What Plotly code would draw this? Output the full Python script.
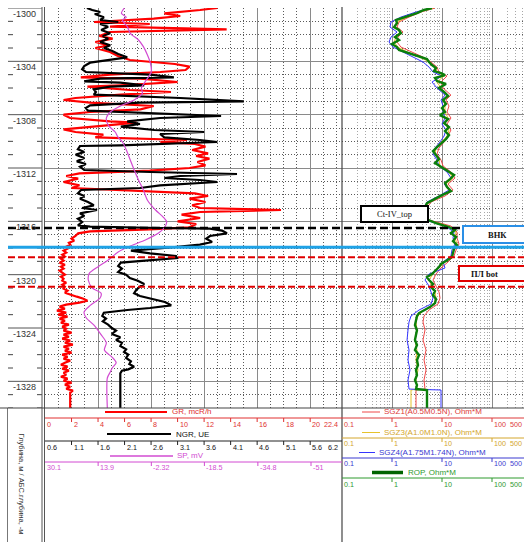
import math
import plotly.graph_objects as go

# ---------------- data ----------------
GR_DEPTH = [1300.0, 1300.15, 1300.4, 1300.6, 1300.8, 1301.05, 1301.2, 1301.4, 1301.6, 1301.8,
            1302.1, 1302.3, 1302.55, 1302.8, 1303.0, 1303.3, 1303.6, 1303.9, 1304.2, 1304.4,
            1304.65, 1304.8, 1305.0, 1305.2, 1305.3, 1305.55, 1305.8, 1305.9, 1306.15, 1306.3,
            1306.5, 1306.75, 1306.9, 1307.1, 1307.35, 1307.6, 1307.8, 1308.0, 1308.25, 1308.5,
            1308.6, 1308.85, 1309.1, 1309.3, 1309.5, 1309.7, 1309.9, 1310.05, 1310.2, 1310.4,
            1310.65, 1310.9, 1311.1, 1311.3, 1311.55, 1311.8, 1312.0, 1312.2, 1312.4, 1312.6,
            1312.8, 1313.05, 1313.3, 1313.5, 1313.7, 1313.9, 1314.1, 1314.3, 1314.55, 1314.8,
            1315.0, 1315.15, 1315.3, 1315.5, 1315.75, 1316.0, 1316.2, 1316.45, 1316.6, 1316.75,
            1316.9,
            1317.1, 1317.3, 1317.45, 1317.6, 1317.75, 1317.9, 1318.05, 1318.2, 1318.35, 1318.5,
            1318.65, 1318.8, 1318.95, 1319.1, 1319.25, 1319.4, 1319.55, 1319.7, 1319.85, 1320.0,
            1320.15, 1320.3, 1320.45, 1320.6, 1320.75, 1320.9, 1321.05, 1321.2, 1321.35, 1321.5,
            1321.65, 1321.8, 1321.95, 1322.1, 1322.25, 1322.4, 1322.55, 1322.7, 1322.85, 1323.0,
            1323.15, 1323.3, 1323.45, 1323.6, 1323.75, 1323.9, 1324.05, 1324.2, 1324.35, 1324.5,
            1324.65, 1324.8, 1324.95, 1325.1, 1325.25, 1325.4, 1325.55, 1325.7, 1325.85, 1326.0,
            1326.15, 1326.3, 1326.45, 1326.6, 1326.75, 1326.9, 1327.05, 1327.2, 1327.35, 1327.5,
            1327.65, 1327.8, 1327.95, 1328.1, 1328.25, 1328.4, 1328.55, 1328.7, 1328.85, 1330.0]
GR_VALUE = [13.0, 11.7, 9.0, 10.2, 8.2, 3.7, 7.9, 4.9, 13.7, 4.9,
            4.1, 5.1, 3.8, 4.8, 3.8, 4.9, 5.5, 6.4, 9.8, 10.9,
            10.6, 8.7, 4.9, 2.7, 7.2, 10.0, 5.7, 3.2, 6.4, 9.5,
            5.7, 2.3, 1.4, 3.4, 8.2, 7.2, 3.4, 1.4, 1.9, 4.9,
            6.9, 4.1, 1.4, 2.3, 4.4, 3.8, 10.7, 8.7, 11.3, 12.1,
            11.1, 12.3, 11.4, 12.4, 11.5, 12.1, 10.9, 7.9, 2.6, 1.6,
            2.5, 1.4, 2.6, 2.0, 6.4, 11.3, 12.3, 10.9, 12.1, 11.1,
            11.7, 17.8, 11.7, 10.3, 11.7, 10.0, 11.4, 10.9, 7.9, 3.4,
            2.5,
            2.3, 2.0, 2.2, 1.8, 1.9, 1.6, 1.7, 1.4, 1.6, 1.3,
            1.5, 1.2, 1.4, 1.1, 1.5, 1.2, 1.4, 1.1, 1.3, 1.5,
            1.2, 1.4, 1.3, 1.6, 1.3, 1.5, 1.4, 1.7, 1.5, 1.9,
            2.4, 2.9, 3.2, 2.6, 1.6, 1.1, 1.5, 0.9, 1.6, 1.0,
            1.7, 1.1, 1.5, 1.2, 1.8, 1.3, 1.6, 1.4, 2.0, 1.4,
            1.8, 1.3, 1.9, 1.5, 2.1, 1.4, 1.8, 1.5, 2.0, 1.3,
            1.7, 1.4, 1.9, 1.5, 1.2, 1.7, 1.3, 1.8, 1.4, 1.6,
            1.2, 1.7, 1.4, 2.0, 1.5, 1.9, 1.6, 2.1, 1.9, 1.9]

NGR_DEPTH = [1300.0, 1300.15, 1300.3, 1300.45, 1300.7, 1300.9, 1301.05, 1301.2, 1301.4, 1301.65,
             1301.9, 1302.1, 1302.3, 1302.55, 1302.8, 1303.0, 1303.2, 1303.45, 1303.7, 1303.9,
             1304.1, 1304.35, 1304.6, 1304.8, 1305.0, 1305.2, 1305.3, 1305.5, 1305.6, 1305.8,
             1305.9, 1306.1, 1306.3, 1306.5, 1306.75, 1307.0, 1307.1, 1307.3, 1307.5, 1307.7,
             1307.95, 1308.1, 1308.25, 1308.5, 1308.7, 1308.9,
             1309.15, 1309.3, 1309.45, 1309.7, 1309.9, 1310.05, 1310.3, 1310.35, 1310.6, 1310.8,
             1311.0, 1311.25, 1311.5, 1311.7, 1311.9, 1312.15, 1312.3, 1312.45, 1312.6, 1312.75,
             1312.9, 1313.05, 1313.3, 1313.5, 1313.65, 1313.9, 1314.1, 1314.3, 1314.55, 1314.8,
             1315.0, 1315.15, 1315.4, 1315.6, 1315.8, 1316.05, 1316.3, 1316.4, 1316.5, 1316.55,
             1316.7, 1316.9, 1317.1, 1317.3, 1317.55, 1317.75, 1318.0, 1318.2, 1318.4, 1318.6,
             1318.75, 1318.95, 1319.1, 1319.35, 1319.55, 1319.8, 1320.0, 1320.25, 1320.45, 1320.7,
             1320.9, 1321.15, 1321.4, 1321.6, 1321.8, 1322.05, 1322.3, 1322.5, 1322.65, 1322.85,
             1323.1, 1323.3, 1323.5, 1323.75, 1324.0, 1324.2, 1324.45, 1324.7, 1324.9, 1325.1,
             1325.35, 1325.6, 1325.8, 1326.0, 1326.25, 1326.5, 1326.7, 1326.9, 1327.1, 1327.2,
             1327.4, 1330.0]
NGR_VALUE = [1.39, 1.49, 1.64, 1.54, 1.71, 1.64, 1.98, 1.64, 1.79, 1.66,
             1.83, 1.69, 1.79, 1.64, 1.83, 1.71, 1.86, 1.98, 2.15, 1.83,
             1.45, 1.34, 1.30, 1.37, 2.58, 3.03, 1.64, 1.34, 2.02, 2.47,
             1.83, 1.52, 1.56, 1.52, 3.15, 4.35, 2.39, 1.45, 1.37, 1.41,
             3.15, 3.92, 2.77, 2.15, 2.39, 2.03,
             2.66, 3.60, 2.77, 2.85, 3.52, 3.85, 2.02, 1.26, 1.22, 1.34,
             1.18, 1.34, 1.20, 1.37, 1.26, 1.34, 2.58, 4.22, 3.15, 2.85,
             3.52, 3.85, 2.77, 2.39, 1.28, 1.22, 1.34, 1.26, 1.41, 1.52,
             1.30, 1.58, 1.26, 1.34, 1.22, 1.30, 1.22, 1.45, 2.77, 3.71,
             3.94, 4.03, 3.71, 3.64, 3.75, 3.52, 2.86, 2.22, 2.58, 3.07,
             3.09, 2.39, 2.03, 1.98, 2.05, 1.98, 2.13, 2.20, 2.35, 2.47,
             2.39, 2.32, 2.28, 2.39, 2.58, 2.86, 2.98, 2.58, 2.15, 1.71,
             1.68, 1.75, 1.69, 1.79, 1.86, 1.94, 1.86, 2.02, 1.94, 2.05,
             2.02, 2.13, 2.09, 2.17, 2.13, 2.22, 2.19, 2.28, 2.17, 2.05,
             2.02, 2.02]

SP_DEPTH = [1300.0, 1300.4, 1300.7, 1300.9, 1301.4, 1301.9, 1302.4, 1302.9, 1303.5, 1304.1,
            1304.8, 1305.4, 1306.0, 1306.4, 1306.9, 1307.35, 1307.8, 1308.25, 1308.8, 1309.3,
            1309.7, 1310.05, 1310.65, 1311.4, 1312.15, 1312.9, 1313.65, 1314.4, 1315.15, 1315.7,
            1316.05, 1316.5, 1316.9, 1317.4, 1317.85, 1318.3, 1318.9, 1319.4, 1319.9, 1320.4,
            1321.0, 1321.4, 1321.75, 1322.3, 1322.8, 1323.25, 1323.8, 1324.5, 1325.1, 1325.65,
            1326.2, 1326.6, 1327.0, 1327.3, 1327.75, 1330.0]
SP_VALUE = [5.9, 6.8, 5.3, 6.5, 5.0, 4.1, 1.6, 0.1, -1.1, -2.0,
            -2.3, -0.8, 0.7, 0.4, 2.9, 7.1, 10.2, 11.4, 10.8, 8.7,
            7.8, 6.5, 5.3, 4.1, 2.9, 1.6, 0.1, -1.1, -3.6, -6.0,
            -7.0, -6.2, -4.4, -0.5, 4.1, 7.8, 10.8, 13.9, 16.6, 16.9,
            15.7, 13.0, 13.3, 16.3, 18.2, 17.5, 15.1, 13.0, 11.4, 12.0,
            9.6, 8.4, 9.6, 10.2, 11.1, 11.1]

ROP_DEPTH = [1300.0, 1300.15, 1300.38, 1300.68, 1300.9, 1301.13, 1301.43, 1301.65, 1301.88, 1302.18,
             1302.4, 1302.7, 1302.93, 1303.15, 1303.38, 1303.6, 1303.83, 1304.05, 1304.28, 1304.5,
             1304.73, 1304.88, 1305.03, 1305.25, 1305.48, 1305.7, 1306.0, 1306.3, 1306.6, 1306.9,
             1307.2, 1307.5, 1307.8, 1308.03, 1308.33, 1308.63, 1308.93, 1309.23, 1309.53, 1309.83,
             1310.13, 1310.43, 1310.73, 1311.03, 1311.33, 1311.63, 1311.93, 1312.23, 1312.53, 1312.83,
             1313.13, 1313.43, 1313.73, 1314.03, 1314.33, 1314.63, 1314.93, 1315.23, 1315.53, 1315.83,
             1316.13, 1316.43, 1316.65, 1316.88, 1317.18, 1317.48, 1317.78, 1318.08, 1318.38, 1318.68,
             1318.98, 1319.2, 1319.43, 1319.65, 1319.95, 1320.18, 1320.4, 1320.7, 1320.93, 1321.23,
             1321.53, 1321.83, 1322.13, 1322.43, 1322.65, 1322.88, 1323.1, 1323.4, 1323.78, 1324.15,
             1324.53, 1324.9, 1325.28, 1325.65, 1326.03, 1326.4, 1326.78, 1327.15, 1327.53, 1327.9,
             1328.28, 1328.58, 1328.65, 1330.0]
ROP_VALUE = [6.31, 4.37, 3.16, 1.91, 1.20, 1.26, 1.10, 1.38, 1.51, 1.15,
             1.38, 1.00, 1.26, 1.38, 2.19, 3.47, 5.01, 5.50, 6.31, 7.59,
             6.92, 9.55, 11.5, 7.24, 7.94, 12.0, 8.71, 11.0, 13.2, 10.5,
             12.0, 10.0, 11.5, 9.12, 13.2, 11.0, 13.8, 11.5, 13.8, 12.0,
             10.0, 7.94, 6.61, 7.59, 8.71, 7.24, 9.55, 12.6, 17.4, 14.5,
             11.5, 12.6, 15.1, 10.0, 7.24, 5.01, 4.57, 5.01, 4.37, 4.79,
             7.59, 13.8, 18.2, 15.1, 19.1, 16.6, 20.0, 17.4, 16.6, 15.8,
             12.0, 9.55, 8.71, 7.59, 6.31, 5.01, 5.50, 6.61, 6.03, 7.24,
             6.61, 7.59, 7.24, 5.75, 4.37, 3.47, 3.16, 3.02, 2.88, 3.16,
             3.02, 2.88, 3.16, 2.88, 3.47, 3.16, 3.31, 3.02, 3.16, 2.88,
             3.16, 3.02, 5.01, 5.01]

RES_DEPTH = [1300.0, 1300.3, 1300.68, 1301.05, 1301.43, 1301.8, 1302.18, 1302.55, 1302.93, 1303.3,
             1303.68, 1304.05, 1304.43, 1304.8, 1305.1, 1305.55, 1306.0, 1306.53, 1306.9, 1307.35,
             1307.8, 1308.25, 1308.7, 1309.15, 1309.6, 1310.05, 1310.5, 1310.95, 1311.4, 1311.85,
             1312.3, 1312.75, 1313.2, 1313.65, 1314.1, 1314.55, 1315.0, 1315.45, 1315.9, 1316.35,
             1316.8, 1317.25, 1317.7, 1318.15, 1318.6, 1319.05, 1319.5, 1319.95, 1320.4, 1320.85,
             1321.3, 1321.75, 1322.2, 1322.65, 1323.1, 1323.55, 1324.15, 1324.9, 1325.65, 1326.4,
             1327.15, 1327.9, 1328.58, 1328.65, 1330.0]
SGZ1_VALUE = [7.24, 3.80, 2.19, 1.38, 1.26, 1.66, 1.32, 1.26, 1.51, 2.40,
              4.17, 6.03, 7.94, 8.71, 12.6, 9.55, 10.5, 15.1, 12.0, 13.8,
              12.6, 15.1, 12.6, 15.1, 13.2, 11.0, 8.71, 7.94, 9.55, 10.5,
              15.1, 18.2, 13.2, 16.6, 11.5, 6.03, 5.01, 5.01, 5.50, 15.1,
              20.0, 20.0, 21.9, 19.1, 17.4, 13.2, 9.55, 7.59, 6.61, 7.59,
              8.71, 9.12, 8.32, 5.50, 4.37, 4.17, 4.57, 4.17, 4.79, 4.37,
              4.79, 4.37, 4.57, 3.02, 3.02]
SGZ3_VALUE = [6.61, 3.47, 2.00, 1.26, 1.15, 1.45, 1.20, 1.10, 1.32, 2.00,
              3.63, 5.50, 7.24, 7.94, 11.0, 7.94, 9.55, 12.6, 11.0, 11.5,
              11.5, 13.2, 11.5, 13.8, 12.6, 10.0, 7.59, 7.24, 8.71, 9.12,
              13.8, 16.6, 12.0, 14.5, 9.55, 5.50, 4.57, 4.57, 5.01, 13.2,
              19.1, 18.2, 20.0, 17.4, 15.8, 11.5, 8.71, 6.61, 5.50, 6.31,
              7.24, 7.59, 6.92, 4.37, 3.31, 3.02, 3.16, 2.88, 3.16, 3.02,
              3.31, 3.02, 3.16, 2.40, 2.40]
SGZ4_VALUE = [6.03, 3.02, 1.51, 0.955, 0.912, 1.26, 0.955, 0.871, 1.05, 1.66,
              2.63, 4.17, 5.50, 6.61, 10.0, 6.31, 7.94, 11.5, 9.55, 10.5,
              10.5, 11.5, 10.0, 12.0, 11.0, 9.12, 7.24, 6.61, 7.94, 8.71,
              12.6, 15.1, 11.0, 13.8, 8.71, 5.01, 4.37, 4.37, 4.57, 11.5,
              17.4, 16.6, 18.2, 15.8, 15.1, 10.5, 11.5, 5.50, 4.57, 5.50,
              6.03, 6.61, 6.03, 3.47, 2.40, 2.19, 2.09, 2.00, 2.19, 2.09,
              2.29, 2.09, 2.19, 9.55, 9.55]

DEPTH_LABELS = [1300, 1304, 1308, 1312, 1316, 1320, 1324, 1328]
GR_TICKS = [0, 2, 4, 6, 8, 10, 12, 14, 16, 18, 20]
NGR_TICKS = [0.6, 1.1, 1.6, 2.1, 2.6, 3.1, 3.6, 4.1, 4.6, 5.1, 5.6]
SP_TICKS = [30.1, 13.9, -2.32, -18.5, -34.8, -51]
RES_TICKS = [0.1, 1, 10, 100]

MARK_CT_IV_TOP = 1316.5
MARK_BHK = 1317.95
MARK_PL_TOP = 1318.7
MARK_PL_BOT = 1320.9

for a, b in [(GR_DEPTH, GR_VALUE), (NGR_DEPTH, NGR_VALUE), (SP_DEPTH, SP_VALUE),
             (ROP_DEPTH, ROP_VALUE), (RES_DEPTH, SGZ1_VALUE), (RES_DEPTH, SGZ3_VALUE),
             (RES_DEPTH, SGZ4_VALUE)]:
    assert len(a) == len(b), (len(a), len(b))

# ---------------- geometry / scales ----------------
W, H = 524, 542
TOP, BOT = 8, 408
T1L, T1R = 45, 342
T2L, T2R = 342, 524
GR_RANGE = [0, 22.4]
NGR_RANGE = [0.6, 6.2]
SP_RANGE = [30.1, -60.45]
RES_LOG_RANGE = [-1, -1 + (T2R - T2L) / 50.0]
DEPTH_RANGE = [-1330, -1300]


def px(x):
    return x / W


def py(y):
    return 1 - y / H


def lin(v, r, a, b):
    return a + (v - r[0]) / (r[1] - r[0]) * (b - a)


def res_px(v):
    return T2L + (math.log10(v) - RES_LOG_RANGE[0]) * 50.0


SANS = "Liberation Sans, Arial, sans-serif"
SERIF = "Liberation Serif, Times New Roman, serif"

C_GR = "#ff0000"
C_GR_T = "#e03030"
C_SP = "#d24bd2"
C_SGZ1 = "#f04848"
C_SGZ1_T = "#dd3a3a"
C_SGZ3 = "#e6c22a"
C_SGZ3_T = "#d4a62c"
C_SGZ4 = "#3434ff"
C_SGZ4_T = "#3a3ad0"
C_ROP = "#0b7f0b"
C_ROP_T = "#2f9a2f"
C_CYAN = "#1fa2e6"
LBL = 7.2

MAJOR = dict(gridcolor="#8a8a8a", gridwidth=1.3)
MINOR_GRID = dict(showgrid=True, gridcolor="#5a5a5a", gridwidth=1, griddash="1px,2px")
MINOR_GRID_LOG = dict(showgrid=True, gridcolor="#a8a8a8", gridwidth=1, griddash="1px,2px")

fig = go.Figure()


def neg(arr):
    return [-d for d in arr]


fig.add_trace(go.Scatter(x=GR_VALUE, y=neg(GR_DEPTH), xaxis="x", yaxis="y", mode="lines",
                         line=dict(color=C_GR, width=2.2), hoverinfo="skip"))
fig.add_trace(go.Scatter(x=SP_VALUE, y=neg(SP_DEPTH), xaxis="x4", yaxis="y", mode="lines",
                         line=dict(color=C_SP, width=1.2, shape="spline", smoothing=0.7),
                         hoverinfo="skip"))
fig.add_trace(go.Scatter(x=NGR_VALUE, y=neg(NGR_DEPTH), xaxis="x3", yaxis="y", mode="lines",
                         line=dict(color="#000000", width=2.2), hoverinfo="skip"))
fig.add_trace(go.Scatter(x=SGZ1_VALUE, y=neg(RES_DEPTH), xaxis="x2", yaxis="y2", mode="lines",
                         line=dict(color=C_SGZ1, width=1), hoverinfo="skip"))
fig.add_trace(go.Scatter(x=SGZ3_VALUE, y=neg(RES_DEPTH), xaxis="x2", yaxis="y2", mode="lines",
                         line=dict(color=C_SGZ3, width=1), hoverinfo="skip"))
fig.add_trace(go.Scatter(x=SGZ4_VALUE, y=neg(RES_DEPTH), xaxis="x2", yaxis="y2", mode="lines",
                         line=dict(color=C_SGZ4, width=1), hoverinfo="skip"))
fig.add_trace(go.Scatter(x=ROP_VALUE, y=neg(ROP_DEPTH), xaxis="x2", yaxis="y2", mode="lines",
                         line=dict(color=C_ROP, width=2.4), hoverinfo="skip"))

ydom = [py(BOT), py(TOP)]
yax = dict(domain=ydom, range=DEPTH_RANGE, tick0=-1300, dtick=4, showgrid=True, **MAJOR,
           minor=dict(dtick=1, **MINOR_GRID), showticklabels=False, ticks="",
           zeroline=False, showline=False, fixedrange=True)

minor_res = [m * 10 ** e for e in (-1, 0, 1, 2) for m in range(2, 10)]

fig.update_layout(
    width=W, height=H, margin=dict(l=0, r=0, t=0, b=0),
    paper_bgcolor="white", plot_bgcolor="white", showlegend=False, hovermode=False,
    xaxis=dict(domain=[px(T1L), px(T1R)], range=GR_RANGE, anchor="y", tick0=0, dtick=4,
               showgrid=True, **MAJOR, minor=dict(dtick=1, **MINOR_GRID),
               showticklabels=False, ticks="", zeroline=False, showline=False, fixedrange=True),
    xaxis3=dict(overlaying="x", range=NGR_RANGE, anchor="y", visible=False, fixedrange=True),
    xaxis4=dict(overlaying="x", range=SP_RANGE, anchor="y", visible=False, fixedrange=True),
    yaxis=yax,
    xaxis2=dict(domain=[px(T2L), 1.0], type="log", range=RES_LOG_RANGE, anchor="y2",
                tickmode="array", tickvals=[1, 10, 100], showgrid=True, **MAJOR,
                minor=dict(tickmode="array", tickvals=minor_res, **MINOR_GRID_LOG),
                showticklabels=False, ticks="", zeroline=False, showline=False, fixedrange=True),
    yaxis2=dict(yax, anchor="x2", matches="y"),
)

shapes = []
ann = []


def hline(x0, x1, y, color, width=1.0, dash=None):
    shapes.append(dict(type="line", xref="paper", yref="paper", x0=px(x0), x1=px(x1),
                       y0=py(y), y1=py(y), line=dict(color=color, width=width, dash=dash)))


def vline(x, y0, y1, color, width=1.0):
    shapes.append(dict(type="line", xref="paper", yref="paper", x0=px(x), x1=px(x),
                       y0=py(y0), y1=py(y1), line=dict(color=color, width=width)))


def text(x, y, s, color, size=LBL, xanchor="left", family=SANS, angle=0, yanchor="middle"):
    ann.append(dict(xref="paper", yref="paper", x=px(x), y=py(y), text=s, showarrow=False,
                    xanchor=xanchor, yanchor=yanchor, textangle=angle,
                    font=dict(family=family, size=size, color=color), borderpad=0))


def depth_line(d, x0, x1, color, width, dash=None):
    shapes.append(dict(type="line", xref="paper", yref="y", x0=px(x0), x1=px(x1),
                       y0=-d, y1=-d, line=dict(color=color, width=width, dash=dash)))


# ---- depth track ----
for d in range(1300, 1331):
    if d % 4 == 0:
        depth_line(d, 8, 42, "#555", 1)
    else:
        depth_line(d, 8, 13, "#444", 1)
        depth_line(d, 37, 42, "#444", 1)
for d in DEPTH_LABELS:
    ann.append(dict(xref="paper", yref="y", x=px(24), y=-d, yshift=-6, text=f"-{d}",
                    showarrow=False, xanchor="center", yanchor="middle",
                    font=dict(family=SANS, size=9, color="#333")))

# frame lines
vline(42, TOP - 1, H, "#555", 1)
vline(44.5, TOP - 1, H, "#555", 1)
vline(T2L, TOP - 1, H, "#444", 1.2)
vline(7.5, BOT, H, "#777", 1)
hline(0, W, BOT, "#444", 1.2)

# ---- markers ----
depth_line(MARK_CT_IV_TOP, 8, 463, "#000000", 2.5, "8px,4px")
depth_line(MARK_BHK, 8, W, C_CYAN, 3)
depth_line(MARK_PL_TOP, 8, W, "#e00000", 2, "7px,3px")
depth_line(MARK_PL_BOT, 8, W, "#e00000", 2, "7px,3px")


def box(x0, x1, y0, y1, color, label, tx, bold=False):
    shapes.append(dict(type="rect", xref="paper", yref="paper", x0=px(x0), x1=px(x1),
                       y0=py(y1), y1=py(y0), fillcolor="white", line=dict(color=color, width=2)))
    s = f"<b>{label}</b>" if bold else label
    text(tx, (y0 + y1) / 2, s, "#111", size=8.5, xanchor="center", family=SERIF)


box(361, 428, 206, 222, "#000000", "Ct-IV_top", 394)
box(463, 530, 226, 243, "#2a8fe6", "ВНК", 497, bold=True)
box(459, 530, 266, 281, "#e00000", "ПЛ bot", 484, bold=True)


# ---- track 1 header ----
def gr_px(v):
    return lin(v, GR_RANGE, T1L, T1R)


def ngr_px(v):
    return lin(v, NGR_RANGE, T1L, T1R)


def sp_px(v):
    return lin(v, SP_RANGE, T1L, T1R)


def fmt(v):
    return f"{v:g}"


# GR
hline(105, 167, 412, C_GR, 2)
text(171, 411.5, "GR, mcR/h", C_GR_T, size=8)
hline(T1L, T1R, 418, C_GR_T, 1)
for v in GR_TICKS:
    x = gr_px(v)
    if v > GR_RANGE[0]:
        vline(x, 418, 422, C_GR_T, 1)
    text(x + 1, 424.5, fmt(v), C_GR_T)
text(T1R - 3, 424.5, "22.4", C_GR_T, xanchor="right")

# NGR
hline(107, 171, 434, "#000", 2)
text(175, 434, "NGR, UE", "#111", size=8)
hline(T1L, T1R, 441, "#222", 1)
for v in NGR_TICKS:
    x = ngr_px(v)
    if v > NGR_RANGE[0]:
        vline(x, 441, 445, "#222", 1)
    text(x + 1, 447.5, fmt(v), "#111")
text(T1R - 3, 447.5, "6.2", "#111", xanchor="right")

# SP
hline(110, 173, 456, C_SP, 1.5)
text(176, 455.5, "SP, mV", C_SP, size=8)
hline(T1L, T1R, 462, C_SP, 1)
for v in SP_TICKS:
    x = sp_px(v)
    if x > T1L + 2:
        vline(x, 462, 466, C_SP, 1)
    text(x + 1, 467.5, fmt(v), C_SP)

# ---- track 2 header ----
res_rows = [
    ("SGZ1(A0.5M0.5N), Ohm*M", C_SGZ1, C_SGZ1_T, 362, 380, 383, 411.5, 418, 424.5, 1),
    ("SGZ3(A1.0M1.0N), Ohm*M", C_SGZ3, C_SGZ3_T, 362, 380, 383, 432, 438, 443.5, 1),
    ("SGZ4(A1.75M1.74N), Ohm*M", C_SGZ4, C_SGZ4_T, 359, 375, 378, 452, 458, 463.5, 1),
    ("ROP, Ohm*M", "#006400", C_ROP_T, 372, 403, 407, 472, 478, 484.5, 3.5),
]
for name, lc, tc, lx0, lx1, tx, ly, ay, lby, lw in res_rows:
    hline(lx0, lx1, ly + 0.5, lc, lw)
    text(tx, ly, name, tc, size=8)
    hline(T2L, T2R, ay, tc, 1)
    for v in RES_TICKS:
        x = res_px(v)
        if v > 0.1:
            vline(x, ay, ay + 4, tc, 1)
        text(x + 1, lby, fmt(v), tc)
    text(W - 1, lby, "500", tc, xanchor="right")

# depth header (rotated)
text(21, 432, "Глубина, м / АБС.глубина, -м", "#333", size=7.5, xanchor="center",
     angle=90, yanchor="top")

fig.update_layout(shapes=shapes, annotations=ann)
fig.write_html("out.html", config={"displayModeBar": False})
